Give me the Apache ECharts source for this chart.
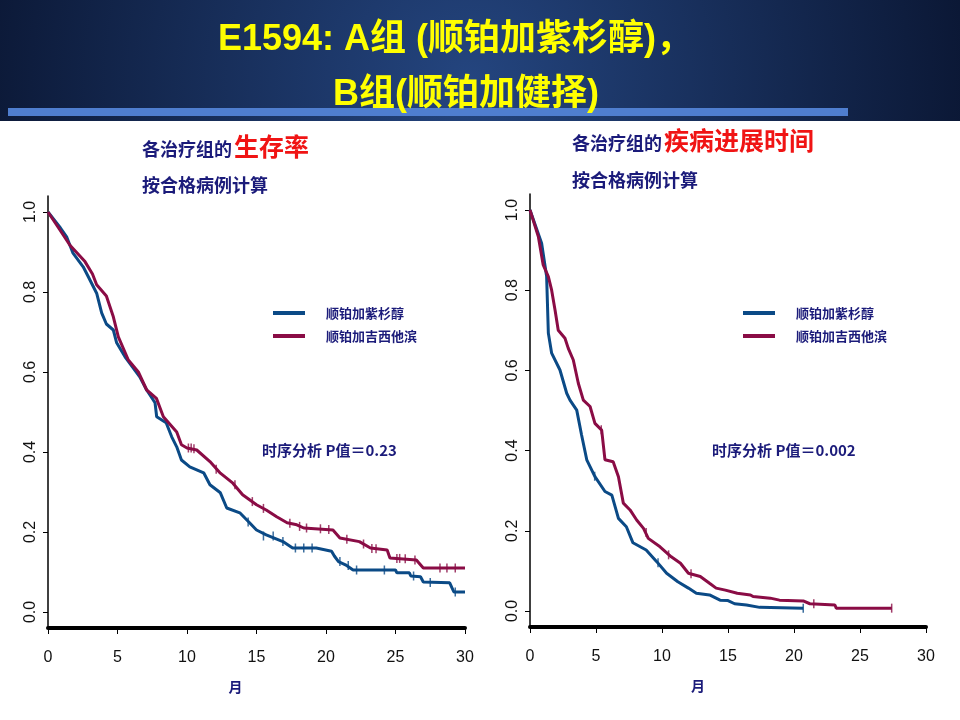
<!DOCTYPE html>
<html>
<head>
<meta charset="utf-8">
<title>E1594</title>
<script src="https://cdn.jsdelivr.net/npm/echarts@6/dist/echarts.min.js"></script>
<style>
  html, body { margin: 0; padding: 0; background: #fff; }
  #main { width: 960px; height: 720px; }
</style>
</head>
<body>
<div id="main"></div>
<script>
// 数据: Kaplan-Meier 曲线拐点 (月, 比例)
var seriesNames = ['顺铂加紫杉醇', '顺铂加吉西他滨'];
var xTicks = [0, 5, 10, 15, 20, 25, 30];
var yTicks = [0, 0.2, 0.4, 0.6, 0.8, 1.0];

// 左图: 生存率
var osTimeA = [0, 0.9, 1.34, 1.8, 2.53, 2.9, 3.5, 3.86, 4.2, 4.7, 4.94, 5.54, 6.6, 7.1, 7.7, 7.82, 8.5, 8.9, 9.26, 9.6, 10.2, 11.2, 11.65, 12.4, 12.86, 13.8, 14.5, 15.0, 15.7, 16.9, 17.6, 19.3, 19.4, 20.4, 20.6, 20.9, 21.4, 21.95, 25.0, 25.1, 26.0, 26.1, 26.8, 27.0, 28.9, 29.2, 30];
var osSurvA = [1, 0.96, 0.938, 0.897, 0.863, 0.838, 0.797, 0.748, 0.72, 0.705, 0.673, 0.638, 0.588, 0.555, 0.523, 0.488, 0.473, 0.438, 0.413, 0.38, 0.363, 0.348, 0.318, 0.298, 0.26, 0.248, 0.223, 0.205, 0.193, 0.176, 0.16, 0.16, 0.155, 0.152, 0.14, 0.126, 0.118, 0.105, 0.105, 0.098, 0.098, 0.09, 0.088, 0.075, 0.073, 0.05, 0.05];
var osTimeB = [0, 0.86, 1.58, 2.66, 3.2, 3.5, 4.2, 4.7, 5.06, 5.78, 6.5, 7.1, 7.8, 8.3, 9.26, 9.6, 10.0, 10.7, 11.65, 12.4, 13.3, 14.0, 15.0, 15.7, 16.45, 17.2, 17.9, 18.4, 20.5, 21.0, 22.4, 23.2, 24.4, 24.6, 26.5, 27.0, 30];
var osSurvB = [1, 0.955, 0.917, 0.876, 0.845, 0.818, 0.79, 0.738, 0.688, 0.63, 0.6, 0.555, 0.534, 0.488, 0.45, 0.418, 0.41, 0.405, 0.376, 0.347, 0.322, 0.293, 0.268, 0.255, 0.238, 0.223, 0.218, 0.21, 0.205, 0.185, 0.176, 0.16, 0.155, 0.135, 0.13, 0.11, 0.11];
var osCensA = [[14.4, 0.225], [15.5, 0.19], [16.2, 0.19], [16.9, 0.176], [17.8, 0.16], [18.4, 0.16], [19.0, 0.16], [21.0, 0.126], [21.6, 0.116], [22.2, 0.105], [24.2, 0.105], [26.3, 0.09], [27.5, 0.074], [29.3, 0.05]];
var osCensB = [[10.1, 0.41], [10.3, 0.41], [10.5, 0.408], [12.1, 0.357], [13.45, 0.318], [14.7, 0.276], [15.5, 0.259], [17.4, 0.222], [18.1, 0.214], [18.6, 0.21], [19.6, 0.208], [20.2, 0.206], [21.5, 0.182], [22.7, 0.17], [23.3, 0.159], [23.6, 0.158], [25.1, 0.134], [25.3, 0.134], [25.7, 0.133], [26.4, 0.13], [28.2, 0.11], [28.7, 0.11], [29.3, 0.11]];

// 右图: 疾病进展时间
var pfsTimeA = [0, 0.88, 1.26, 1.39, 1.64, 2.27, 2.78, 3.03, 3.54, 3.9, 4.3, 4.92, 5.68, 6.2, 6.7, 7.3, 7.8, 8.8, 9.6, 10.35, 11.2, 12.0, 12.6, 13.6, 14.4, 15.0, 15.5, 16.4, 17.4, 20.7];
var pfsSurvA = [1, 0.917, 0.834, 0.693, 0.643, 0.601, 0.543, 0.526, 0.501, 0.44, 0.377, 0.335, 0.298, 0.289, 0.231, 0.21, 0.17, 0.152, 0.123, 0.094, 0.073, 0.057, 0.044, 0.04, 0.027, 0.026, 0.018, 0.015, 0.009, 0.007];
var pfsTimeB = [0, 0.63, 1.0, 1.39, 1.64, 1.9, 2.14, 2.65, 2.9, 3.28, 3.66, 4.04, 4.55, 4.92, 5.43, 5.68, 6.3, 6.7, 7.07, 7.58, 8.08, 8.6, 8.96, 9.85, 10.7, 11.4, 12.0, 12.9, 13.6, 14.1, 14.8, 15.7, 16.7, 16.9, 18.2, 18.9, 20.7, 21.2, 23.1, 23.2, 27.4];
var pfsSurvB = [1, 0.934, 0.863, 0.834, 0.8, 0.75, 0.7, 0.68, 0.655, 0.626, 0.568, 0.526, 0.51, 0.468, 0.451, 0.377, 0.372, 0.335, 0.269, 0.252, 0.227, 0.206, 0.181, 0.16, 0.135, 0.119, 0.094, 0.086, 0.069, 0.057, 0.052, 0.044, 0.04, 0.036, 0.032, 0.027, 0.025, 0.018, 0.015, 0.007, 0.007];
var pfsCensA = [[4.9, 0.336], [9.7, 0.12], [20.7, 0.007]];
var pfsCensB = [[5.4, 0.452], [8.8, 0.196], [10.5, 0.14], [12.2, 0.093], [21.5, 0.018], [27.4, 0.007]];

var blue = '#0b4a86';
var red = '#8a0c45';
var navy = '#1b1b7a';
var latin = '"Liberation Sans", Arial, "Noto Sans CJK SC", sans-serif';
var cjk = '"Noto Sans CJK SC", "Liberation Sans", sans-serif';

function pairs(t, s) {
    var out = [];
    for (var i = 0; i < t.length; i++) out.push([t[i], s[i]]);
    return out;
}

function xAxisOf(idx, shift) {
    return {
        gridIndex: idx, type: 'value', min: 0, max: 30, interval: 5,
        axisLine: { onZero: false, lineStyle: { color: '#000', width: 4 } },
        axisTick: { length: 6, lineStyle: { color: '#000', width: 1 } },
        axisLabel: { color: '#111', fontSize: 16, margin: 22, fontFamily: latin },
        splitLine: { show: false },
        name: '月', nameLocation: 'middle', nameGap: 52,
        nameTextStyle: { color: navy, fontSize: 14, fontWeight: 'bold', fontFamily: cjk, padding: [0, shift, 0, 0] }
    };
}
function yAxisOf(idx) {
    return {
        gridIndex: idx, type: 'value', min: -0.04, max: 1.04,
        axisLine: { onZero: false, lineStyle: { color: '#000', width: 1.5 } },
        axisTick: { length: 5, customValues: yTicks, lineStyle: { color: '#000', width: 1 } },
        axisLabel: {
            customValues: yTicks, rotate: 90, color: '#111', fontSize: 16, margin: 9, fontFamily: latin,
            formatter: function (v) { return v.toFixed(1); }
        },
        splitLine: { show: false }
    };
}
function kmLine(name, idx, t, s, color) {
    return {
        name: name, type: 'line', xAxisIndex: idx, yAxisIndex: idx,
        data: pairs(t, s), showSymbol: false, symbol: 'none', animation: false,
        lineStyle: { color: color, width: 3 }, itemStyle: { color: color }
    };
}
function censor(idx, pts, color) {
    return {
        name: 'censor', type: 'scatter', xAxisIndex: idx, yAxisIndex: idx,
        data: pts, symbol: 'rect', symbolSize: [1.5, 9], animation: false,
        itemStyle: { color: color }, z: 3
    };
}
function legendAt(left) {
    return {
        data: seriesNames, orient: 'vertical', left: left, top: 305, padding: 0,
        icon: 'rect', itemWidth: 32, itemHeight: 4, itemGap: 7,
        textStyle: { color: navy, fontSize: 13, fontWeight: 'bold', fontFamily: cjk, padding: [0, 0, 0, 16], lineHeight: 16 }
    };
}

var myChart = echarts.init(document.getElementById('main'));
var option = {
    backgroundColor: '#fff',
    animation: false,
    grid: [
        { left: 48, top: 196, width: 417, height: 432 },
        { left: 530, top: 194, width: 396, height: 433 }
    ],
    xAxis: [xAxisOf(0, 42), xAxisOf(1, 60)],
    yAxis: [yAxisOf(0), yAxisOf(1)],
    legend: [legendAt(273), legendAt(743)],
    series: [
        kmLine(seriesNames[0], 0, osTimeA, osSurvA, blue),
        kmLine(seriesNames[1], 0, osTimeB, osSurvB, red),
        censor(0, osCensA, blue),
        censor(0, osCensB, red),
        kmLine(seriesNames[0], 1, pfsTimeA, pfsSurvA, blue),
        kmLine(seriesNames[1], 1, pfsTimeB, pfsSurvB, red),
        censor(1, pfsCensA, blue),
        censor(1, pfsCensB, red)
    ],
    graphic: [
        // 标题栏背景
        { type: 'rect', left: 0, top: 0, z: -10, shape: { width: 960, height: 121 },
          style: { fill: { type: 'radial', x: 470, y: 80, r: 560, global: true,
            colorStops: [{ offset: 0, color: '#24457f' }, { offset: 1, color: '#08122c' }] } } },
        { type: 'rect', left: 8, top: 108, z: -5, shape: { width: 840, height: 8 }, style: { fill: '#4f7ecf' } },
        { type: 'text', x: 455, y: 40, z: 5, style: { text: 'E1594: A组 (顺铂加紫杉醇)，', fill: '#ffff00',
            font: 'bold 36px ' + latin, textAlign: 'center', textVerticalAlign: 'middle' } },
        { type: 'text', x: 466, y: 95, z: 5, style: { text: 'B组(顺铂加健择)', fill: '#ffff00',
            font: 'bold 36px ' + latin, textAlign: 'center', textVerticalAlign: 'middle' } },
        // 小标题
        { type: 'text', x: 142, y: 149, style: { text: '各治疗组的', fill: navy, font: 'bold 18px ' + cjk, textVerticalAlign: 'middle' } },
        { type: 'text', x: 234, y: 146, style: { text: '生存率', fill: '#f01414', font: 'bold 25px ' + cjk, textVerticalAlign: 'middle' } },
        { type: 'text', x: 142, y: 185, style: { text: '按合格病例计算', fill: navy, font: 'bold 18px ' + cjk, textVerticalAlign: 'middle' } },
        { type: 'text', x: 572, y: 143, style: { text: '各治疗组的', fill: navy, font: 'bold 18px ' + cjk, textVerticalAlign: 'middle' } },
        { type: 'text', x: 664, y: 140, style: { text: '疾病进展时间', fill: '#f01414', font: 'bold 25px ' + cjk, textVerticalAlign: 'middle' } },
        { type: 'text', x: 572, y: 180, style: { text: '按合格病例计算', fill: navy, font: 'bold 18px ' + cjk, textVerticalAlign: 'middle' } },
        // P值
        { type: 'text', x: 262, y: 450, style: { text: '时序分析 P值＝0.23', fill: navy, font: 'bold 15px ' + cjk, textVerticalAlign: 'middle' } },
        { type: 'text', x: 712, y: 450, style: { text: '时序分析 P值＝0.002', fill: navy, font: 'bold 15px ' + cjk, textVerticalAlign: 'middle' } }
    ]
};
myChart.setOption(option);
</script>
</body>
</html>
